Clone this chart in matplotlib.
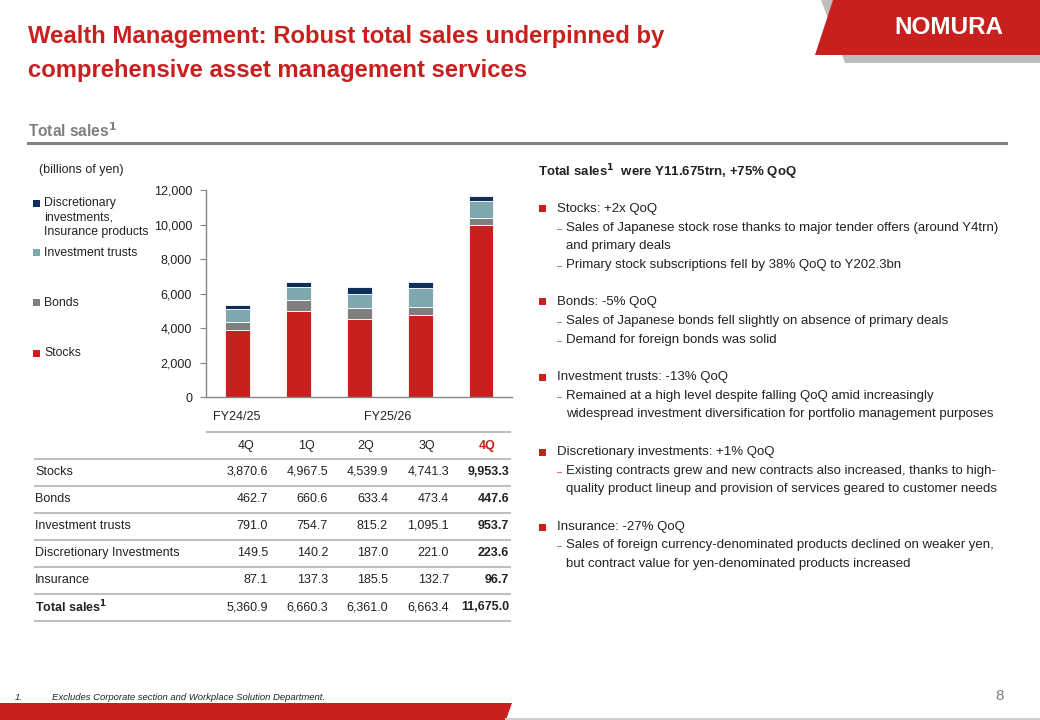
import matplotlib
matplotlib.use("Agg")
import matplotlib.pyplot as plt
from matplotlib.patches import Rectangle, Polygon

plt.rcParams['font.family'] = ['Liberation Sans', 'DejaVu Sans']

# ---- data ----
quarters = ["4Q", "1Q", "2Q", "3Q", "4Q"]
fiscal_years = ["FY24/25", "FY25/26"]
stocks = [3870.6, 4967.5, 4539.9, 4741.3, 9953.3]
bonds = [462.7, 660.6, 633.4, 473.4, 447.6]
inv_trusts = [791.0, 754.7, 815.2, 1095.1, 953.7]
discretionary = [149.5, 140.2, 187.0, 221.0, 223.6]
insurance = [87.1, 137.3, 185.5, 132.7, 96.7]
totals = [5360.9, 6660.3, 6361.0, 6663.4, 11675.0]
yticks = [0, 2000, 4000, 6000, 8000, 10000, 12000]
row_labels = ["Stocks", "Bonds", "Investment trusts", "Discretionary Investments", "Insurance", "Total sales$^\\mathbf{1}$"]

RED = "#C8201E"
GRAY = "#7F7F7F"
TEAL = "#7FA8AE"
NAVY = "#0E2F5A"
TXT = "#222222"

W, H = 1040, 720
fig = plt.figure(figsize=(W / 100, H / 100), dpi=100)

def fx(x):
    return x / W

def fy(y):
    return 1 - y / H

def ftext(x, y, s, **kw):
    kw.setdefault('va', 'center')
    kw.setdefault('color', TXT)
    fig.text(fx(x), fy(y), s, **kw)

# ---- header ----
ftext(28, 36, "Wealth Management: Robust total sales underpinned by", fontsize=17.2, fontweight='bold', color=RED)
ftext(28, 70, "comprehensive asset management services", fontsize=17.2, fontweight='bold', color=RED)

# logo
fig.patches.append(Polygon([[fx(821), fy(0)], [fx(1040), fy(0)], [fx(1040), fy(63)], [fx(845), fy(63)]],
                           closed=True, transform=fig.transFigure, facecolor="#BDBDBD", edgecolor='none'))
fig.patches.append(Polygon([[fx(833), fy(0)], [fx(1040), fy(0)], [fx(1040), fy(55)], [fx(815), fy(55)]],
                           closed=True, transform=fig.transFigure, facecolor=RED, edgecolor='none'))
ftext(949, 28, "NOMURA", fontsize=17.5, fontweight='bold', color='white', ha='center')

# section heading
ftext(28, 131, "Total sales$^\\mathbf{1}$", fontsize=11.2, fontweight='bold', color="#7F7F7F")
fig.add_artist(plt.Line2D([fx(28), fx(1006)], [fy(143), fy(143)], color="#808080", lw=2.2, transform=fig.transFigure))

ftext(39, 170, "(billions of yen)", fontsize=9)

# ---- chart ----
ax = fig.add_axes([fx(206), fy(397.3), fx(512) - fx(206), (397.3 - 190) / H])
x = list(range(len(stocks)))
bw = 0.41
top_seg = [d + i for d, i in zip(discretionary, insurance)]
b1 = stocks
b2 = [a + b for a, b in zip(b1, bonds)]
b3 = [a + b for a, b in zip(b2, inv_trusts)]
ax.bar(x, stocks, bw, color=RED, edgecolor='white', linewidth=0.6)
ax.bar(x, bonds, bw, bottom=b1, color=GRAY, edgecolor='white', linewidth=0.6)
ax.bar(x, inv_trusts, bw, bottom=b2, color=TEAL, edgecolor='white', linewidth=0.6)
ax.bar(x, top_seg, bw, bottom=b3, color=NAVY, edgecolor='white', linewidth=0.6)
ax.set_xlim(-0.52, 4.51)
ax.set_ylim(0, 12000)
ax.set_yticks(yticks)
ax.set_yticklabels([f"{v:,}" for v in yticks], fontsize=9, color=TXT)
ax.set_xticks([])
for s in ['top', 'right']:
    ax.spines[s].set_visible(False)
for s in ['left', 'bottom']:
    ax.spines[s].set_color("#868686")
    ax.spines[s].set_linewidth(1)
ax.tick_params(axis='y', length=4, color="#868686", pad=6)
ax.set_facecolor('none')

# legend
leg = [
    (NAVY, ["Discretionary", "investments,", "Insurance products"], 203),
    (TEAL, ["Investment trusts"], 253),
    (GRAY, ["Bonds"], 303),
    (RED, ["Stocks"], 353),
]
for col, lines, y0 in leg:
    fig.patches.append(Rectangle((fx(33), fy(y0 + 3.5)), 7 / W, 7 / H, transform=fig.transFigure,
                                 facecolor=col, edgecolor='none'))
    for k, ln in enumerate(lines):
        ftext(44, y0 + k * 14.5, ln, fontsize=8.8)

# ---- table ----
col_x = [268, 328, 388, 449, 509]
ftext(237, 417, fiscal_years[0], fontsize=9, ha='center')
ftext(388, 417, fiscal_years[1], fontsize=9, ha='center')
LC = "#BFBFBF"
def hline(x0, x1, y, lw=1.5):
    fig.add_artist(plt.Line2D([fx(x0), fx(x1)], [fy(y), fy(y)], color=LC, lw=lw, transform=fig.transFigure))
hline(207, 510, 432)
for i, q in enumerate(quarters):
    last = i == len(quarters) - 1
    ftext(col_x[i] - 22, 446, q, fontsize=9, ha='center',
          color=RED if last else TXT, fontweight='bold' if last else 'normal')
hline(35, 510, 459)
series = [stocks, bonds, inv_trusts, discretionary, insurance, totals]
row_y = [472, 499, 526, 553, 580, 607]
for r, (lab, vals, yy) in enumerate(zip(row_labels, series, row_y)):
    ftext(35, yy, lab, fontsize=9, fontweight='bold' if r == 5 else 'normal')
    for i, v in enumerate(vals):
        last = i == len(vals) - 1
        ftext(col_x[i], yy, f"{v:,.1f}", fontsize=9, ha='right', fontweight='bold' if last else 'normal')
    hline(35, 510, yy + 14)

# ---- right text ----
ftext(538, 172, "Total sales$^\\mathbf{1}$  were Y11.675trn, +75% QoQ", fontsize=9.5, fontweight='bold')
items = [
    ("Stocks: +2x QoQ", 209, [("Sales of Japanese stock rose thanks to major tender offers (around Y4trn)", 228, True),
                               ("and primary deals", 246, False),
                               ("Primary stock subscriptions fell by 38% QoQ to Y202.3bn", 265, True)]),
    ("Bonds: -5% QoQ", 302, [("Sales of Japanese bonds fell slightly on absence of primary deals", 321, True),
                              ("Demand for foreign bonds was solid", 340, True)]),
    ("Investment trusts: -13% QoQ", 377, [("Remained at a high level despite falling QoQ amid increasingly", 396, True),
                                         ("widespread investment diversification for portfolio management purposes", 414, False)]),
    ("Discretionary investments: +1% QoQ", 452, [("Existing contracts grew and new contracts also increased, thanks to high-", 471, True),
                                                ("quality product lineup and provision of services geared to customer needs", 489, False)]),
    ("Insurance: -27% QoQ", 527, [("Sales of foreign currency-denominated products declined on weaker yen,", 545, True),
                                  ("but contract value for yen-denominated products increased", 564, False)]),
]
for head, yh, subs in items:
    fig.patches.append(Rectangle((fx(539), fy(yh + 3.5)), 7 / W, 7 / H, transform=fig.transFigure,
                                 facecolor=RED, edgecolor='none'))
    ftext(557, yh, head, fontsize=9.5)
    for s, ys, dash in subs:
        if dash:
            ftext(557, ys + 1.5, "–", fontsize=6.5, color=RED)
        ftext(566, ys, s, fontsize=9.5)

# ---- footer ----
ftext(15, 697, "1.", fontsize=6.8, style='italic')
ftext(52, 697, "Excludes Corporate section and Workplace Solution Department.", fontsize=6.8, style='italic')
ftext(1004, 696, "8", fontsize=11, color="#7F7F7F", ha='right')
fig.patches.append(Polygon([[0, fy(703)], [fx(512), fy(703)], [fx(506), fy(720)], [0, fy(720)]],
                           closed=True, transform=fig.transFigure, facecolor=RED, edgecolor='none'))
fig.add_artist(plt.Line2D([fx(506), 1], [fy(718.5), fy(718.5)], color="#D0D0D0", lw=1.5, transform=fig.transFigure))

fig.savefig("out.png", dpi=100)
